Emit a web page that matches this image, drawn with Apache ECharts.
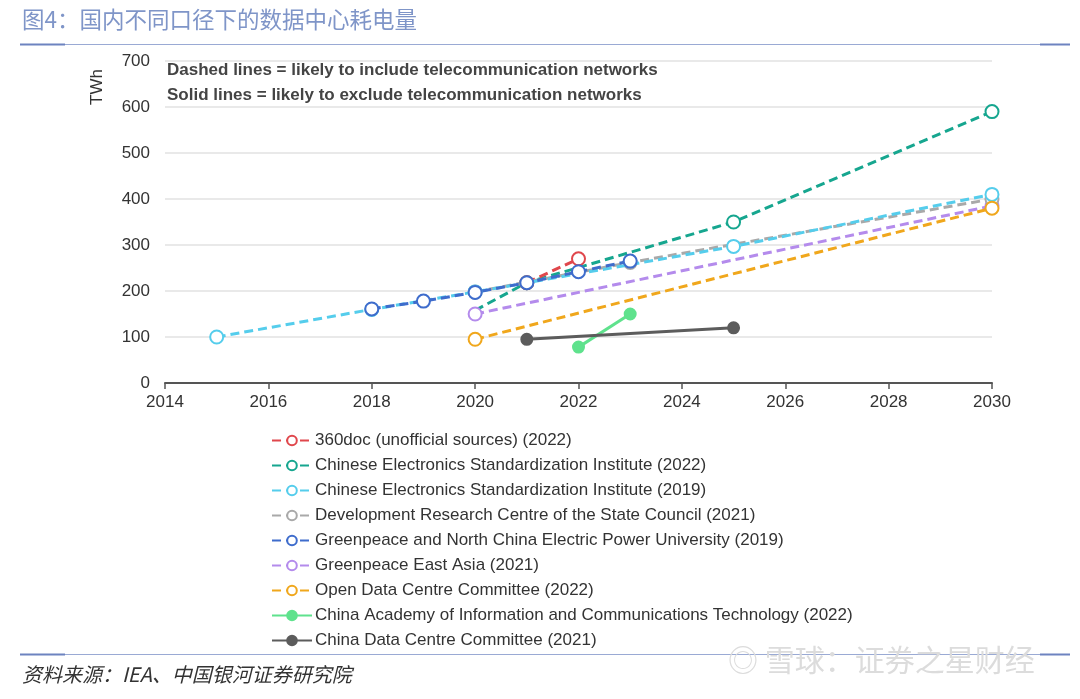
<!DOCTYPE html>
<html><head><meta charset="utf-8">
<script src="https://cdn.jsdelivr.net/npm/echarts@6/dist/echarts.min.js"></script>
<style>html,body{margin:0;padding:0;background:#fff}#c{width:1080px;height:699px}</style>
</head><body><div id="c"></div>
<script>
const seriesNames = [
  '360doc (unofficial sources) (2022)',
  'Chinese Electronics Standardization Institute (2022)',
  'Chinese Electronics Standardization Institute (2019)',
  'Development Research Centre of the State Council (2021)',
  'Greenpeace and North China Electric Power University (2019)',
  'Greenpeace East Asia (2021)',
  'Open Data Centre Committee (2022)',
  'China Academy of Information and Communications Technology (2022)',
  'China Data Centre Committee (2021)'
];
const seriesColors = ['#e0474c','#16a68f','#55cdec','#a9a9a9','#3e6ccc','#b48bec','#f0a71c','#5fe28d','#5c5c5c'];
const seriesDashed = [true,true,true,true,true,true,true,false,false];
const data360doc = [[2021,218],[2022,270]];
const dataCESI2022 = [[2020,158],[2021,218],[2025,350],[2030,590]];
const dataCESI2019 = [[2015,100],[2018,160],[2020,198],[2025,297],[2030,410]];
const dataDRC = [[2020,198],[2023,262],[2030,400]];
const dataGPNCEPU = [[2018,161],[2019,178],[2020,197],[2021,218],[2022,242],[2023,265]];
const dataGPEA = [[2020,150],[2030,385]];
const dataODCC = [[2020,95],[2030,380]];
const dataCAICT = [[2022,78],[2023,150]];
const dataCDCC = [[2021,95],[2025,120]];
const allData = [data360doc,dataCESI2022,dataCESI2019,dataDRC,dataGPNCEPU,dataGPEA,dataODCC,dataCAICT,dataCDCC];
const xTicks = {min:2014,max:2030,interval:2};
const yTicks = {min:0,max:700,interval:100};

const FF = '"Liberation Sans", Arial, sans-serif';
const CJK = '"Noto Sans CJK SC", sans-serif';
const zOrder = [2,1,5,4,9,3,6,7,8];

const chart = echarts.init(document.getElementById('c'));
const series = seriesNames.map((n,i)=>({
  name:n, type:'line',
  data: allData[i].map((d,j)=> (i===1 && j===0) ? {value:d, symbol:'none'} : d),
  symbol: seriesDashed[i] ? 'emptyCircle' : 'circle',
  symbolSize: seriesDashed[i] ? 13 : 11,
  lineStyle:{color:seriesColors[i], width:3, type: seriesDashed[i] ? [9,5] : 'solid'},
  itemStyle:{color: seriesColors[i], borderColor:seriesColors[i], borderWidth:2},
  emphasis:{disabled:true}, animation:false, z: 2+zOrder[i]
}));
chart.setOption({
  animation:false,
  textStyle:{fontFamily:FF},
  grid:{left:165,right:88,top:61,bottom:316},
  xAxis:{type:'value',min:xTicks.min,max:xTicks.max,interval:xTicks.interval,
    axisLine:{lineStyle:{color:'#555',width:2}},
    axisTick:{show:true,length:6,lineStyle:{color:'#555',width:1.5}},
    axisLabel:{color:'#333',fontSize:17,margin:11,fontFamily:FF,formatter:v=>String(v)},
    splitLine:{show:false}},
  yAxis:{type:'value',min:yTicks.min,max:yTicks.max,interval:yTicks.interval,
    axisLine:{show:false},axisTick:{show:false},
    axisLabel:{color:'#333',fontSize:17,margin:15,fontFamily:FF},
    splitLine:{lineStyle:{color:'#e2e2e2',width:1.5}}},
  legend:{orient:'vertical',left:266,top:427,itemGap:8,itemWidth:40,itemHeight:12,
    textStyle:{color:'#333',fontSize:17,fontFamily:FF,padding:[0,0,0,-2]},
    data:seriesNames},
  series:series,
  graphic:[
    {type:'text',left:22,top:8,style:{text:'图4：国内不同口径下的数据中心耗电量',fill:'#7f95c8',fontSize:22.5,fontFamily:CJK}},
    {type:'rect',shape:{x:22,y:44,width:1048,height:1},style:{fill:'#9aaad4'}},
    {type:'rect',shape:{x:20,y:43.5,width:45,height:2},style:{fill:'#6d83c0'}},
    {type:'rect',shape:{x:1040,y:43.5,width:30,height:2},style:{fill:'#6d83c0'}},
    {type:'rect',shape:{x:22,y:654,width:1048,height:1},style:{fill:'#9aaad4'}},
    {type:'rect',shape:{x:20,y:653.5,width:45,height:2},style:{fill:'#6d83c0'}},
    {type:'rect',shape:{x:1040,y:653.5,width:30,height:2},style:{fill:'#6d83c0'}},
    {type:'text',x:97,y:87,rotation:Math.PI/2,style:{text:'TWh',fill:'#333',fontSize:17,fontFamily:FF,align:'center',verticalAlign:'middle'}},
    {type:'text',left:167,top:62,style:{text:'Dashed lines = likely to include telecommunication networks',fill:'#444',fontSize:17,fontWeight:'bold',fontFamily:FF}},
    {type:'text',left:167,top:87,style:{text:'Solid lines = likely to exclude telecommunication networks',fill:'#444',fontSize:17,fontWeight:'bold',fontFamily:FF}},
    {type:'text',left:22,top:664,style:{text:'资料来源：IEA、中国银河证券研究院',fill:'#333',fontSize:20,fontStyle:'italic',fontFamily:CJK}},
    {type:'text',left:728,top:645,style:{text:'◎ 雪球：证券之星财经',fill:'#dcdcdc',fontSize:30,fontFamily:CJK}}
  ]
});
</script></body></html>
